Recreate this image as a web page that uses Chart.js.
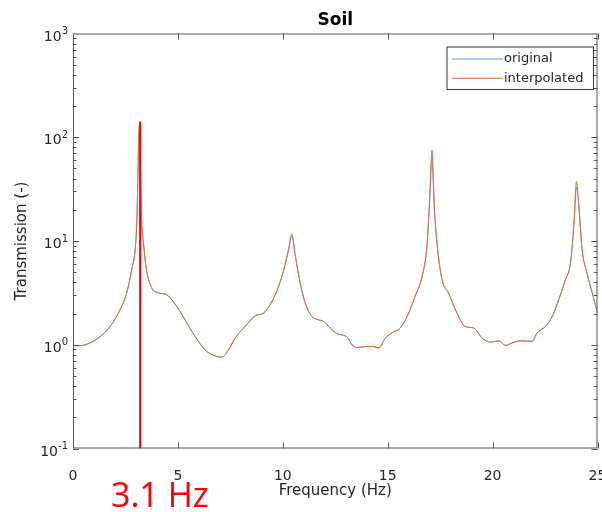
<!DOCTYPE html>
<html>
<head>
<meta charset="utf-8">
<script src="https://cdn.jsdelivr.net/npm/chart.js@4.4.1/dist/chart.umd.min.js"></script>
<style>
  html, body { margin: 0; padding: 0; background: #fff; }
  #wrap { position: relative; width: 602px; height: 512px; }
  #hz { position: absolute; left: 111px; top: 477px; color: #ff0000; font-family: "Open Sans", sans-serif; font-size: 34px; line-height: 1; white-space: nowrap; }
</style>
</head>
<body>
<div id="wrap">
  <canvas id="soilChart"></canvas>
  <div id="hz">3.1 Hz</div>
</div>
<script>
// frequency samples (Hz)
const freq = [0, 0.33, 0.8, 1.29, 1.77, 2.24, 2.56, 2.8, 2.96, 3.04,
  3.17, 3.25, 3.36, 3.5, 3.75, 4.07, 4.47, 4.78, 5.1, 5.34,
  5.82, 6.3, 6.77, 7.1, 7.41, 7.73, 8.2, 8.68, 9.08, 9.48,
  9.8, 10.1, 10.27, 10.43, 10.6, 10.83, 11.07, 11.39, 11.7, 11.94,
  12.26, 12.58, 13.06, 13.3, 13.54, 13.93, 14.33, 14.57, 14.89, 15.2,
  15.6, 16.0, 16.3, 16.64, 16.87, 17.0, 17.11, 17.22, 17.35, 17.59,
  17.9, 18.3, 18.7, 19.1, 19.5, 19.9, 20.3, 20.61, 20.93, 21.33,
  21.88, 22.12, 22.52, 22.84, 23.15, 23.47, 23.71, 23.87, 24.0, 24.1,
  24.27, 24.5, 24.75, 25.0];

const original = [0.98, 0.98, 1.04, 1.2, 1.5, 2.17, 3.17, 5.3, 8.2, 15,
  128, 20, 9.6, 5.3, 3.55, 3.17, 3.03, 2.6, 2.1, 1.74,
  1.2, 0.89, 0.78, 0.76, 0.89, 1.16, 1.5, 1.9, 2.02, 2.61,
  3.65, 5.8, 8.2, 11.2, 7.1, 3.93, 2.52, 1.87, 1.74, 1.68,
  1.45, 1.28, 1.19, 1.0, 0.94, 0.96, 0.96, 0.93, 1.16, 1.3,
  1.45, 2.02, 2.92, 4.55, 8.9, 25, 62, 21.6, 9.5, 4.23,
  3.15, 2.02, 1.5, 1.45, 1.16, 1.06, 1.09, 0.985, 1.04, 1.09,
  1.08, 1.3, 1.5, 1.87, 2.71, 4.23, 6.1, 13.8, 33, 23,
  8.2, 4.9, 3.15, 2.02];

const interpolated = [0.98, 0.98, 1.04, 1.2, 1.5, 2.17, 3.17, 5.3, 8.2, 15,
  141, 20, 9.6, 5.3, 3.55, 3.17, 3.03, 2.6, 2.1, 1.74,
  1.2, 0.89, 0.78, 0.76, 0.89, 1.16, 1.5, 1.9, 2.02, 2.61,
  3.65, 5.8, 8.2, 11.7, 7.1, 3.93, 2.52, 1.87, 1.74, 1.68,
  1.45, 1.28, 1.19, 1.0, 0.94, 0.96, 0.96, 0.93, 1.16, 1.3,
  1.45, 2.02, 2.92, 4.55, 8.9, 25, 75, 21.6, 9.5, 4.23,
  3.15, 2.02, 1.5, 1.45, 1.16, 1.06, 1.09, 0.985, 1.04, 1.09,
  1.08, 1.3, 1.5, 1.87, 2.71, 4.23, 6.1, 13.8, 37.5, 23,
  8.2, 4.9, 3.15, 2.02];

// red marker at the first resonance
const markerFreq = [3.2, 3.2];
const markerLevel = [0.1, 141];

const xTicks = [0, 5, 10, 15, 20, 25];
const yTicks = [0.1, 1, 10, 100, 1000];
const yExponents = ['-1', '0', '1', '2', '3'];

const axisColor = '#555555';
const textColor = '#262626';

// box, inward ticks, power-of-ten labels and legend, MATLAB style
const matlabAxes = {
    id: 'matlabAxes',
    afterDraw(chart) {
        const ctx = chart.ctx;
        const area = chart.chartArea;
        const x = chart.scales.x;
        const y = chart.scales.y;
        ctx.save();
        ctx.strokeStyle = axisColor;
        ctx.lineWidth = 1;
        ctx.strokeRect(area.left + 0.5, area.top + 0.5, area.right - area.left - 1, area.bottom - area.top - 1);

        ctx.beginPath();
        xTicks.forEach(v => {
            const px = Math.round(x.getPixelForValue(v)) + 0.5;
            ctx.moveTo(px, area.bottom); ctx.lineTo(px, area.bottom - 6);
            ctx.moveTo(px, area.top); ctx.lineTo(px, area.top + 6);
        });
        for (let p = -1; p < 3; p++) {
            for (let m = 1; m < 10; m++) {
                const py = Math.round(y.getPixelForValue(m * Math.pow(10, p))) + 0.5;
                const len = m === 1 ? 6 : 3.5;
                ctx.moveTo(area.left, py); ctx.lineTo(area.left + len, py);
                ctx.moveTo(area.right, py); ctx.lineTo(area.right - len, py);
            }
        }
        ctx.stroke();

        // y labels 10^n
        ctx.fillStyle = textColor;
        ctx.textBaseline = 'middle';
        ctx.textAlign = 'left';
        yTicks.forEach((v, i) => {
            const py = y.getPixelForValue(v);
            ctx.font = '10px "DejaVu Sans"';
            const ew = ctx.measureText(yExponents[i]).width;
            ctx.font = '14px "DejaVu Sans"';
            const bw = ctx.measureText('10').width;
            const right = area.left - 5;
            ctx.fillText('10', right - ew - bw, py + 3.5);
            ctx.font = '10px "DejaVu Sans"';
            ctx.fillText(yExponents[i], right - ew, py - 2);
        });

        // legend
        const sets = chart.data.datasets.filter(d => d.label);
        const bx = area.right - 151, by = area.top + 13, bw = 146.5, bh = 42.5;
        ctx.fillStyle = '#ffffff';
        ctx.fillRect(bx, by, bw, bh);
        ctx.strokeStyle = '#333333';
        ctx.strokeRect(bx + 0.5, by + 0.5, bw, bh);
        ctx.font = '13px "DejaVu Sans"';
        sets.forEach((d, i) => {
            const ly = by + 12.5 + i * 19.3;
            ctx.strokeStyle = d.borderColor;
            ctx.lineWidth = 1;
            ctx.beginPath();
            ctx.moveTo(bx + 5.5, ly); ctx.lineTo(bx + 56.5, ly);
            ctx.stroke();
            ctx.fillStyle = textColor;
            ctx.fillText(d.label, bx + 57.5, ly);
        });
        ctx.restore();
    }
};

const ctx = document.getElementById('soilChart').getContext('2d');
const soilChart = new Chart(ctx, {
    type: 'line',
    data: {
        datasets: [
            {
                label: 'original',
                data: freq.map((f, i) => ({ x: f, y: original[i] })),
                borderColor: '#5a9fd4',
                borderWidth: 1,
                pointRadius: 0,
                order: 3,
                cubicInterpolationMode: 'monotone'
            },
            {
                label: 'interpolated',
                data: freq.map((f, i) => ({ x: f, y: interpolated[i] })),
                borderColor: '#D9703F',
                borderWidth: 1,
                pointRadius: 0,
                order: 2,
                cubicInterpolationMode: 'monotone'
            },
            {
                label: '',
                data: markerFreq.map((f, i) => ({ x: f, y: markerLevel[i] })),
                borderColor: '#ff0000',
                borderWidth: 2,
                pointRadius: 0,
                order: 1
            }
        ]
    },
    options: {
        responsive: true,
        maintainAspectRatio: false,
        animation: false,
        events: [],
        layout: { padding: { top: 0, right: 4.5, bottom: 0, left: 0 } },
        plugins: {
            legend: { display: false },
            tooltip: { enabled: false },
            title: {
                display: true,
                text: 'Soil',
                fullSize: false,
                color: '#000000',
                font: { family: 'DejaVu Sans', size: 17, weight: 'bold' },
                padding: { top: 10, bottom: 3.1 }
            }
        },
        scales: {
            x: {
                type: 'linear',
                min: 0,
                max: 25,
                afterBuildTicks: s => { s.ticks = xTicks.map(v => ({ value: v })); },
                afterFit: s => { s.height = 63.5; s.paddingLeft = 0; s.paddingRight = 0; },
                grid: { display: false },
                border: { display: false },
                ticks: {
                    color: textColor,
                    font: { family: 'DejaVu Sans', size: 14 },
                    padding: 11,
                    maxRotation: 0,
                    autoSkip: false
                },
                title: {
                    display: true,
                    text: 'Frequency (Hz)',
                    color: textColor,
                    font: { family: 'DejaVu Sans', size: 15 },
                    padding: { top: 0, bottom: 12 }
                }
            },
            y: {
                type: 'logarithmic',
                min: 0.1,
                max: 1000,
                afterFit: s => { s.width = 73; },
                grid: { display: false },
                border: { display: false },
                ticks: { display: false },
                title: {
                    display: true,
                    text: 'Transmission (-)',
                    color: textColor,
                    font: { family: 'DejaVu Sans', size: 15 },
                    padding: { top: 13, bottom: 0 }
                }
            }
        }
    },
    plugins: [matlabAxes]
});
</script>
</body>
</html>
